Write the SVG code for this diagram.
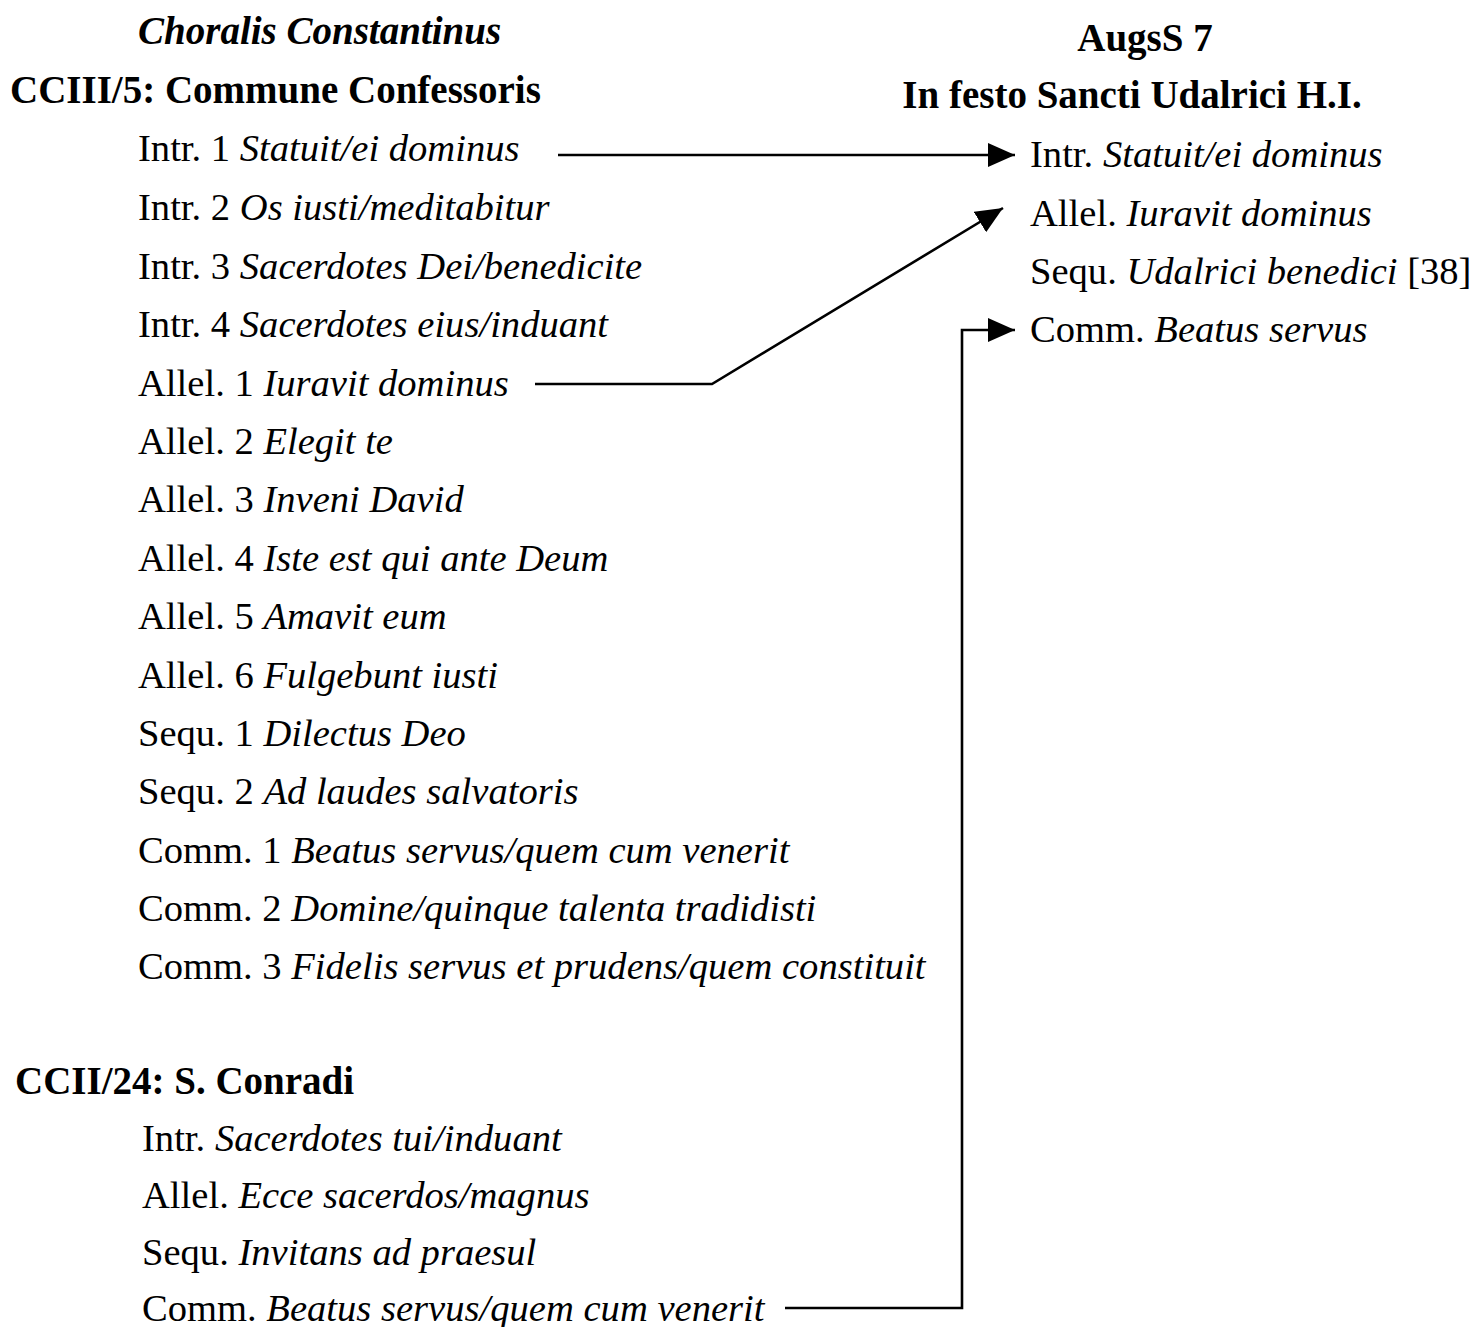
<svg xmlns="http://www.w3.org/2000/svg" width="1476" height="1327" viewBox="0 0 1476 1327">
  <style>
    text { font-family: "Liberation Serif", "Times New Roman", serif; fill: #000; }
    .hd { font-weight: bold; font-size: 39px; }
    .it { font-style: italic; }
    .row { font-size: 38.6px; }
    .wire { fill: none; stroke: #000; stroke-width: 2.6; }
  </style>
  <defs>
    <marker id="arrow" markerUnits="userSpaceOnUse" markerWidth="27" markerHeight="24" refX="27" refY="12" orient="auto">
      <path d="M0,0 L27,12 L0,24 Z" fill="#000"/>
    </marker>
  </defs>

  <rect width="1476" height="1327" fill="#fff"/>

  <!-- left column: Choralis Constantinus -->
  <g id="cc-header">
    <text class="hd it" x="138" y="44">Choralis Constantinus</text>
    <text class="hd" x="10" y="103">CCIII/5: Commune Confessoris</text>
  </g>
  <g id="cc-items">
    <text id="cc-intr1" class="row" x="138" y="161">Intr. 1 <tspan class="it">Statuit/ei dominus</tspan></text>
    <text id="cc-intr2" class="row" x="138" y="220">Intr. 2 <tspan class="it">Os iusti/meditabitur</tspan></text>
    <text id="cc-intr3" class="row" x="138" y="279">Intr. 3 <tspan class="it">Sacerdotes Dei/benedicite</tspan></text>
    <text id="cc-intr4" class="row" x="138" y="337">Intr. 4 <tspan class="it">Sacerdotes eius/induant</tspan></text>
    <text id="cc-allel1" class="row" x="138" y="396">Allel. 1 <tspan class="it">Iuravit dominus</tspan></text>
    <text id="cc-allel2" class="row" x="138" y="454">Allel. 2 <tspan class="it">Elegit te</tspan></text>
    <text id="cc-allel3" class="row" x="138" y="512">Allel. 3 <tspan class="it">Inveni David</tspan></text>
    <text id="cc-allel4" class="row" x="138" y="571">Allel. 4 <tspan class="it">Iste est qui ante Deum</tspan></text>
    <text id="cc-allel5" class="row" x="138" y="629">Allel. 5 <tspan class="it">Amavit eum</tspan></text>
    <text id="cc-allel6" class="row" x="138" y="688">Allel. 6 <tspan class="it">Fulgebunt iusti</tspan></text>
    <text id="cc-sequ1" class="row" x="138" y="746">Sequ. 1 <tspan class="it">Dilectus Deo</tspan></text>
    <text id="cc-sequ2" class="row" x="138" y="804">Sequ. 2 <tspan class="it">Ad laudes salvatoris</tspan></text>
    <text id="cc-comm1" class="row" x="138" y="863">Comm. 1 <tspan class="it">Beatus servus/quem cum venerit</tspan></text>
    <text id="cc-comm2" class="row" x="138" y="921">Comm. 2 <tspan class="it">Domine/quinque talenta tradidisti</tspan></text>
    <text id="cc-comm3" class="row" x="138" y="979">Comm. 3 <tspan class="it">Fidelis servus et prudens/quem constituit</tspan></text>
  </g>

  <!-- left column: S. Conradi -->
  <g id="conradi-header">
    <text class="hd" x="15" y="1094">CCII/24: S. Conradi</text>
  </g>
  <g id="conradi-items">
    <text id="sc-intr" class="row" x="142" y="1151">Intr. <tspan class="it">Sacerdotes tui/induant</tspan></text>
    <text id="sc-allel" class="row" x="142" y="1208">Allel. <tspan class="it">Ecce sacerdos/magnus</tspan></text>
    <text id="sc-sequ" class="row" x="142" y="1265">Sequ. <tspan class="it">Invitans ad praesul</tspan></text>
    <text id="sc-comm" class="row" x="142" y="1321">Comm. <tspan class="it">Beatus servus/quem cum venerit</tspan></text>
  </g>

  <!-- right column: AugsS 7 -->
  <g id="augs-header">
    <text class="hd" x="1145" y="51" text-anchor="middle">AugsS 7</text>
    <text class="hd" x="1132" y="108" text-anchor="middle">In festo Sancti Udalrici H.I.</text>
  </g>
  <g id="augs-items">
    <text id="au-intr" class="row" x="1030" y="167">Intr. <tspan class="it">Statuit/ei dominus</tspan></text>
    <text id="au-allel" class="row" x="1030" y="226">Allel. <tspan class="it">Iuravit dominus</tspan></text>
    <text id="au-sequ" class="row" x="1030" y="284">Sequ. <tspan class="it">Udalrici benedici</tspan> [38]</text>
    <text id="au-comm" class="row" x="1030" y="342">Comm. <tspan class="it">Beatus servus</tspan></text>
  </g>

  <!-- connectors -->
  <g id="connectors">
    <path class="wire" d="M558,155 L1015,155" marker-end="url(#arrow)"/>
    <path class="wire" d="M535,384 L712,384 L1003,208" marker-end="url(#arrow)"/>
    <path class="wire" d="M785,1308 L962,1308 L962,330 L1015,330" marker-end="url(#arrow)"/>
  </g>
</svg>
